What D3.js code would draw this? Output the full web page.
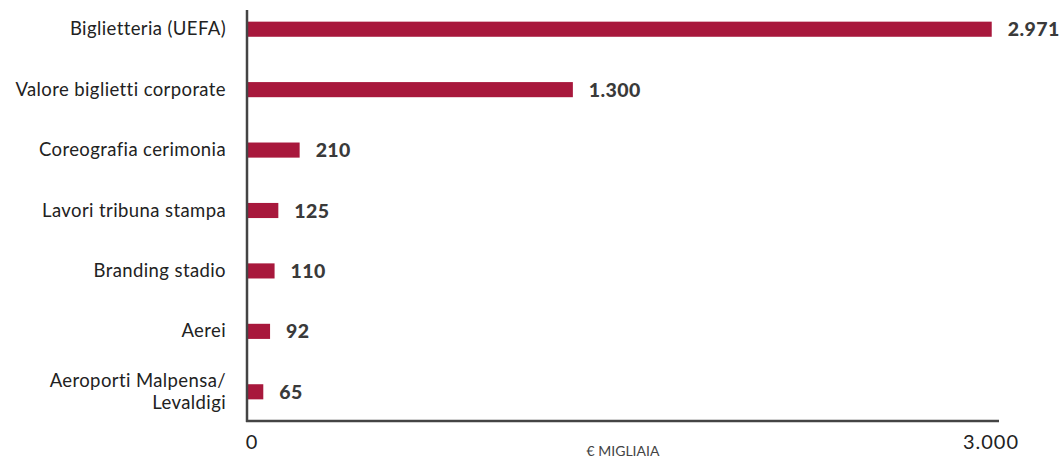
<!DOCTYPE html>
<html><head><meta charset="utf-8">
<script src="https://cdn.jsdelivr.net/npm/d3@7"></script>
<style>body{margin:0;background:#fff}</style>
</head><body>
<svg id="c" width="1062" height="461"></svg>
<script>
const categories = ["Biglietteria (UEFA)", "Valore biglietti corporate", "Coreografia cerimonia", "Lavori tribuna stampa", "Branding stadio", "Aerei", "Aeroporti Malpensa/\nLevaldigi"];
const values = [2971, 1300, 210, 125, 110, 92, 65];
const valueLabels = ["2.971", "1.300", "210", "125", "110", "92", "65"];
const tickValues = [0, 3000];
const tickLabels = ["0", "3.000"];
const axisTitle = "€ MIGLIAIA";

const svg = d3.select("#c");
const x = d3.scaleLinear().domain([0, 3000]).range([247, 999]);
const y = d3.scaleBand().domain(categories).range([-1, 422]).paddingInner(0.75).paddingOuter(0.375);
const barColor = "#a8183c";

svg.selectAll("rect.bar").data(values).join("rect")
  .attr("class", "bar")
  .attr("x", x(0)).attr("y", (d, i) => y(categories[i]))
  .attr("width", d => x(d) - x(0)).attr("height", y.bandwidth())
  .attr("fill", barColor);

svg.selectAll("text.val").data(values).join("text")
  .attr("class", "val")
  .attr("x", d => x(d) + 16).attr("y", (d, i) => y(categories[i]) + y.bandwidth() / 2 + 7)
  .attr("font-family", "Lato").attr("font-weight", 900).attr("font-size", 19.5)
  .attr("letter-spacing", 0.4)
  .attr("fill", "#3a3a3a")
  .text((d, i) => valueLabels[i]);

const cat = svg.selectAll("text.cat").data(categories).join("text")
  .attr("class", "cat")
  .attr("text-anchor", "end")
  .attr("font-family", "Lato").attr("font-size", 18.5).attr("letter-spacing", 0.4).attr("fill", "#222");
cat.each(function (d) {
  const lines = d.split("\n");
  const cy = y(d) + y.bandwidth() / 2;
  const t = d3.select(this);
  lines.forEach((l, j) => {
    t.append("tspan").attr("x", 226)
      .attr("y", cy + 6 + (j - (lines.length - 1) / 2) * 22)
      .text(l);
  });
});

// axes lines
svg.append("line").attr("x1", x(0)).attr("x2", x(0)).attr("y1", 10).attr("y2", 422)
  .attr("stroke", "#444").attr("stroke-width", 2.5);
svg.append("line").attr("x1", x(0) - 1).attr("x2", x(3000)).attr("y1", 421).attr("y2", 421)
  .attr("stroke", "#444").attr("stroke-width", 2.5);

svg.selectAll("text.tick").data(tickValues).join("text")
  .attr("class", "tick")
  .attr("x", (d, i) => i === 0 ? x(d) + 5 : x(d) - 8).attr("y", 449)
  .attr("text-anchor", "middle")
  .attr("font-family", "Lato").attr("font-size", 20).attr("letter-spacing", 1).attr("fill", "#222")
  .text((d, i) => tickLabels[i]);

svg.append("text").attr("x", 623).attr("y", 456).attr("text-anchor", "middle")
  .attr("font-family", "Lato").attr("font-size", 14).attr("fill", "#444")
  .text(axisTitle);
</script>
</body></html>
